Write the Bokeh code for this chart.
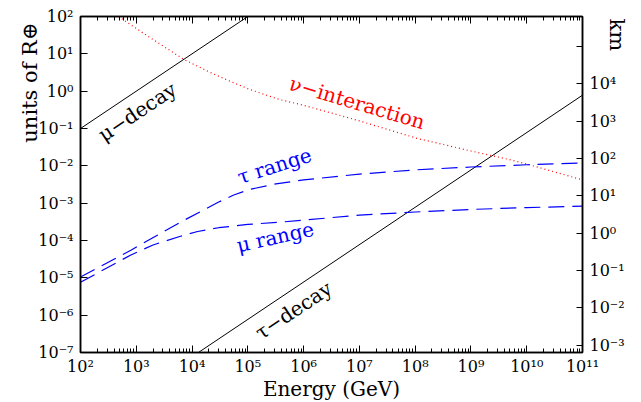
import math
from bokeh.plotting import figure
from bokeh.models import (LogAxis, Range1d, LogScale, FixedTicker,
                          CustomJSTickFormatter, Label, Title)
from bokeh.embed import file_html
from bokeh.resources import INLINE

R_EARTH_KM = 6371.0

# ---- tick values -------------------------------------------------------
x_ticks = [1e2, 1e3, 1e4, 1e5, 1e6, 1e7, 1e8, 1e9, 1e10, 1e11]
y_ticks = [1e-7, 1e-6, 1e-5, 1e-4, 1e-3, 1e-2, 1e-1, 1e0, 1e1, 1e2]
km_ticks = [1e-3, 1e-2, 1e-1, 1e0, 1e1, 1e2, 1e3, 1e4, 1e5]

# ---- series (energy in GeV, length in Earth radii) ---------------------
mu_decay_E = [1e2, 1e5]
mu_decay_R = [1e-1, 1e2]

tau_decay_E = [1.3e4, 1e11]
tau_decay_R = [1e-7, 0.78]

nu_E = [4.8e2, 1.6e3, 7.1e3, 2.0e4, 4.9e4, 1.1e5, 3.8e5, 1e6, 1e7, 1.1e8,
        1e9, 5.1e9, 1e10, 1e11]
nu_R = [100, 30, 7.1, 3.3, 1.82, 1.1, 0.59, 0.42, 0.16, 0.054,
        0.025, 0.0145, 0.0112, 0.0042]

tau_range_E = [1e2, 8e2, 6.2e3, 3e4, 5.6e4, 1.1e5, 3.2e5, 1e6, 1e7, 1e8,
               1e9, 1e10, 1e11]
tau_range_R = [1.05e-5, 5.5e-5, 3.1e-4, 1.07e-3, 1.66e-3, 2.35e-3, 3.3e-3,
               4.2e-3, 6.0e-3, 7.8e-3, 9.3e-3, 1.07e-2, 1.2e-2]

mu_range_E = [1e2, 8e2, 2e3, 6.2e3, 1.26e4, 3e4, 1e5, 3.8e5, 1e6, 1e7, 1e8,
              1e9, 1e10, 1e11]
mu_range_R = [7.6e-6, 4.1e-5, 7.6e-5, 1.3e-4, 1.74e-4, 2.2e-4, 2.7e-4,
              3.1e-4, 3.5e-4, 4.8e-4, 5.8e-4, 6.8e-4, 7.6e-4, 8.3e-4]

FONT = "DejaVu Serif"
TICK_FS = "16px"
LABEL_FS = "20px"
TITLE_FS = "21px"

p = figure(x_axis_type="log", y_axis_type="log",
           x_range=Range1d(1e2, 1e11), y_range=Range1d(1e-7, 1e2),
           frame_width=502, frame_height=336,
           min_border_left=80, min_border_top=16,
           min_border_right=55, min_border_bottom=46,
           output_backend="svg", toolbar_location=None)
p.xgrid.visible = False
p.ygrid.visible = False
p.outline_line_color = "black"
p.outline_line_width = 1.5
p.background_fill_color = "white"
p.border_fill_color = "white"

sup_js = """
const sup = {'-':'\u207b','0':'\u2070','1':'\u00b9','2':'\u00b2','3':'\u00b3',
             '4':'\u2074','5':'\u2075','6':'\u2076','7':'\u2077','8':'\u2078','9':'\u2079'};
const e = Math.round(Math.log10(tick));
if (e > MAXE) { return ''; }
return '10' + String(e).split('').map(c => sup[c]).join('');
"""

def fmt(maxe=99):
    return CustomJSTickFormatter(code=sup_js.replace("MAXE", str(maxe)))

minor_x = [k * 10 ** n for n in range(2, 11) for k in range(2, 10)]


def style_axis(ax, tick_in=7, minor_in=4):
    ax.major_tick_in = tick_in
    ax.major_tick_out = 0
    ax.minor_tick_in = minor_in
    ax.minor_tick_out = 0
    ax.axis_line_width = 1.5
    ax.major_tick_line_width = 1
    ax.minor_tick_line_width = 1
    ax.major_label_text_font = FONT
    ax.major_label_text_font_size = TICK_FS
    ax.major_label_text_color = "black"
    ax.axis_label_text_font = FONT
    ax.axis_label_text_font_size = LABEL_FS
    ax.axis_label_text_font_style = "normal"
    ax.axis_label_text_color = "black"


# bottom axis
xa = p.xaxis[0]
xa.ticker = FixedTicker(ticks=x_ticks, minor_ticks=minor_x)
xa.formatter = fmt()
style_axis(xa)
xa.major_label_standoff = 4
xa.axis_label = "Energy (GeV)"
xa.axis_label_standoff = -2

# top axis (ticks only)
ta = LogAxis(ticker=FixedTicker(ticks=x_ticks, minor_ticks=minor_x),
             formatter=CustomJSTickFormatter(code="return '';"))
style_axis(ta)
ta.major_label_standoff = 0
p.add_layout(ta, "above")

# left axis
ya = p.yaxis[0]
ya.ticker = FixedTicker(ticks=y_ticks)
ya.formatter = fmt()
style_axis(ya)
ya.major_label_standoff = 7

# right axis in km
p.extra_y_ranges = {"km": Range1d(1e-7 * R_EARTH_KM, 1e2 * R_EARTH_KM)}
p.extra_y_scales = {"km": LogScale()}
ra = LogAxis(y_range_name="km", ticker=FixedTicker(ticks=km_ticks),
             formatter=fmt(4))
style_axis(ra, tick_in=6)
ra.major_label_standoff = 7
p.add_layout(ra, "right")

# axis titles near the top, as in the reference
def side_title(text, align, offset, standoff):
    t = Title(text=text, align=align, offset=offset, text_font=FONT,
              text_font_size=TITLE_FS, text_font_style="normal",
              text_color="black")
    try:
        t.standoff = standoff
    except Exception:
        t.standoff = 0
    return t

p.add_layout(side_title("units of R\u2295", "right", 6, -12), "left")
p.add_layout(side_title("km", "left", 2, -46), "right")

# ---- curves -------------------------------------------------------------
p.line(mu_decay_E, mu_decay_R, line_color="black", line_width=1)
p.line(tau_decay_E, tau_decay_R, line_color="black", line_width=1)
p.line(nu_E, nu_R, line_color="#ff0000", line_width=1.2, line_dash="1 3")
p.line(tau_range_E, tau_range_R, line_color="#0000ff", line_width=1.2,
       line_dash="16 8")
p.line(mu_range_E, mu_range_R, line_color="#0000ff", line_width=1.2,
       line_dash="16 8")

# ---- text labels ----------------------------------------------------------
curve_labels = [
    ("\u03bc\u2212decay", 10 ** 3.02, 10 ** -0.55, 0.588, "black"),
    ("\u03c4\u2212decay", 10 ** 5.82, 10 ** -5.87, 0.588, "black"),
    ("\u03bd\u2212interaction", 10 ** 6.96, 10 ** -0.31, -0.29, "#ff0000"),
    ("\u03c4 range", 10 ** 5.48, 10 ** -2.0, 0.31, "#0000ff"),
    ("\u03bc range", 10 ** 5.49, 10 ** -3.91, 0.22, "#0000ff"),
]
for txt, x, y, ang, col in curve_labels:
    p.add_layout(Label(x=x, y=y, text=txt, angle=ang, text_color=col,
                       text_font=FONT, text_font_size=LABEL_FS,
                       text_align="center", text_baseline="middle"))

open("out.html", "w").write(file_html(p, INLINE))
